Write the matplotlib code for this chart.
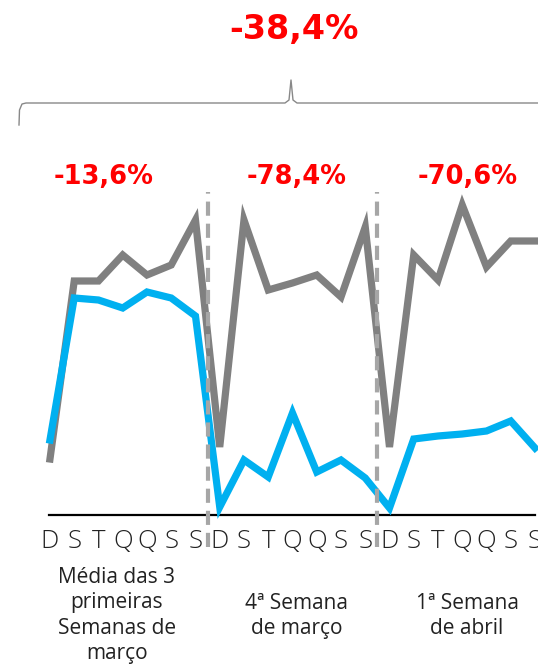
import matplotlib.pyplot as plt
import numpy as np
from matplotlib.lines import Line2D

days = ['D', 'S', 'T', 'Q', 'Q', 'S', 'S'] * 3
gray = [56, 234, 234, 260, 240, 250, 295,
        68, 295, 225, 232, 240, 218, 288,
        68, 260, 235, 310, 248, 274, 274]
blue = [75, 217, 215, 207, 223, 217, 199,
        8, 55, 38, 102, 43, 55, 37,
        7, 76, 79, 81, 84, 94, 67]
periods = ['Média das 3\nprimeiras\nSemanas de\nmarço', '4ª Semana\nde março', '1ª Semana\nde abril']
period_var = ['-13,6%', '-78,4%', '-70,6%']
total_var = '-38,4%'

W, H = 538, 666
fig = plt.figure(figsize=(W / 100, H / 100), dpi=100)

def fx(x):
    return x / W

def fy(y):
    return 1 - y / H

ax = fig.add_axes([fx(49), fy(515), (535 - 49) / W, (515 - 195) / H])
x = np.arange(len(days))
ax.plot(x, gray, color='#808080', lw=5.2, solid_joinstyle='miter', zorder=3, clip_on=False)
ax.plot(x, blue, color='#00B0F0', lw=5.2, solid_joinstyle='miter', zorder=4, clip_on=False)

for sep in [6.5, 13.5]:
    ax.plot([sep, sep], [-32, 323], color='#A6A6A6', lw=3,
            linestyle=(0, (3.4, 1.9)), zorder=5, clip_on=False)

ax.set_xlim(-0.04, 20)
ax.set_ylim(0, 320)
ax.set_xticks(x)
ax.set_xticklabels(days, fontsize=18.5, family='Open Sans', fontweight='light', color='#222222')
ax.tick_params(axis='x', length=0, pad=10)
ax.set_yticks([])
for s in ['top', 'right', 'left']:
    ax.spines[s].set_visible(False)
ax.spines['bottom'].set_linewidth(1.6)
ax.spines['bottom'].set_color('black')

# period labels (the two short ones start one line lower)
for cx, top, lab in zip([117, 297, 467], [567, 593, 593], periods):
    fig.text(fx(cx), fy(top), lab, ha='center', va='top', fontsize=15,
             family='Open Sans', color='#222222', linespacing=1.27)

for cx, lab in zip([104, 297, 468], period_var):
    fig.text(fx(cx), fy(177), lab, ha='center', va='center', fontsize=18.5,
             fontweight='bold', family='DejaVu Sans', color='#FF0000')

fig.text(fx(294), fy(30), total_var, ha='center', va='center', fontsize=24,
         fontweight='bold', family='DejaVu Sans', color='#FF0000')

# brace
bx = [19, 19.5, 22, 26, 285, 289, 291, 293, 297, 538]
by = [125, 110, 104, 103, 103, 100, 80, 100, 103, 103]
fig.add_artist(Line2D([fx(v) for v in bx], [fy(v) for v in by],
                      color='#888888', lw=1.0))

fig.savefig('out.png', dpi=100)
